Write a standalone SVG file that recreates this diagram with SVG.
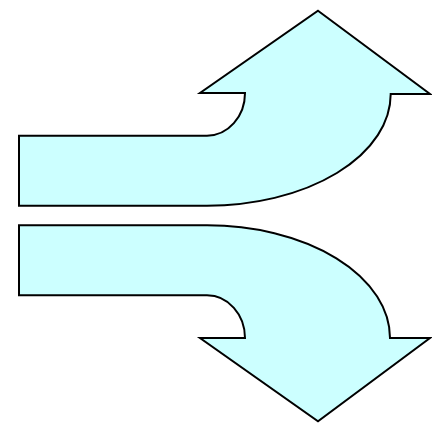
<svg xmlns="http://www.w3.org/2000/svg" width="432" height="425" viewBox="0 0 432 425">
<style>
.arrow{fill:#CCFFFF;stroke:#000;stroke-width:2;stroke-linejoin:miter}
</style>
<rect width="432" height="425" fill="#fff"/>
<g id="arrow-up">
<path class="arrow" d="M318,10.7 L430,94 L390.7,94 A183.7,111.7 0 0 1 207,205.7 L19,205.7 L19,135.7 L207,135.7 A38,42.7 0 0 0 245,93 L200,93 Z"/>
</g>
<g id="arrow-down">
<path class="arrow" d="M19,225.3 L207,225.3 A183,112.7 0 0 1 390,338 L430,338 L318,421.3 L200,338 L245,338 A38,42.7 0 0 0 207,295.3 L19,295.3 Z"/>
</g>
<g id="connectors"></g>
</svg>
